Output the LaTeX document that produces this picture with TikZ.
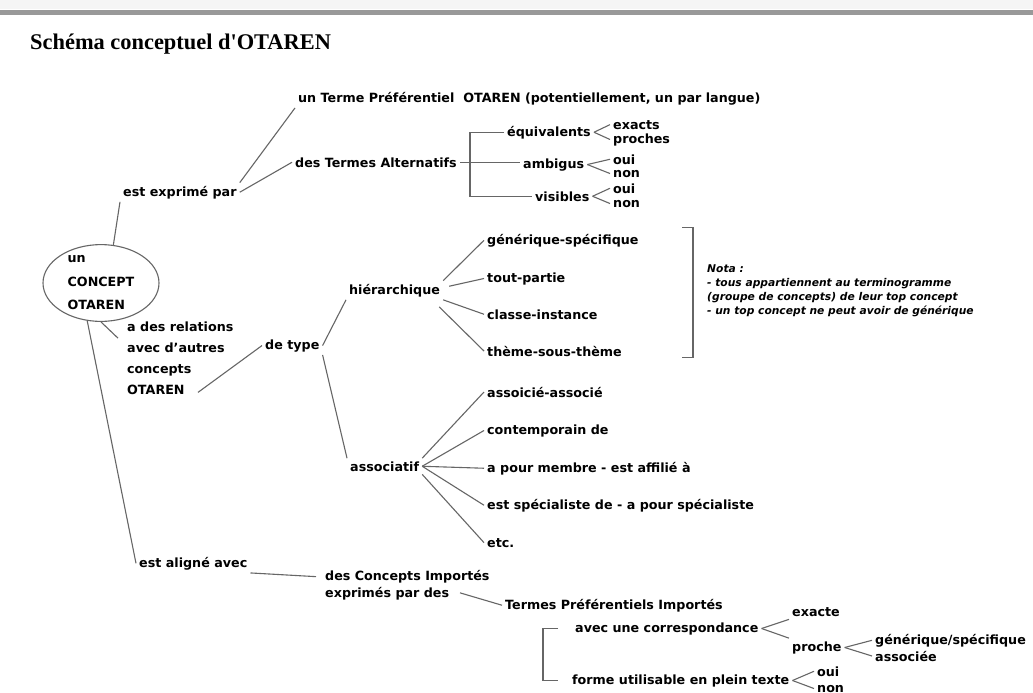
\documentclass[tikz,border=0pt]{standalone}
\usepackage{fontspec}
\setmainfont{DejaVu Sans}
\newfontfamily\titlefont{Liberation Serif}
\usetikzlibrary{calc,shapes.geometric}

\newcommand{\lblfont}{\fontsize{12.7}{14}\selectfont\bfseries}

\begin{document}
\begin{tikzpicture}[x=1pt,y=-1pt,
    lbl/.style={anchor=base west, inner sep=3pt, font=\lblfont},
    con/.style={draw=black!60, line width=1.1pt}]
    %CADRE
    \fill[white] (0,0) rectangle (1033,693);
    \useasboundingbox (0,0) rectangle (1033,693);
    \fill[black!4] (0,0) rectangle (1033,9);
    \fill[black!40] (0,10) rectangle (1033,15);

    %TITRE
    \node[anchor=base west, inner sep=0pt, font=\titlefont\fontsize{22.4}{26}\selectfont\bfseries] (titre) at (30,50) {Schéma conceptuel d'OTAREN};

    %CONCEPT
    \node[ellipse, con, minimum width=116pt, minimum height=74pt, inner sep=0pt, align=left, font=\fontsize{12.7}{23.5}\selectfont\bfseries] (concept) at (101,283) {un\\CONCEPT\\OTAREN};

    %EXPRIME
    \node[lbl] (expr) at (120,196) {est exprimé par};
    \node[lbl] (tp) at (295,102) {un Terme Préférentiel\ \ OTAREN (potentiellement, un par langue)};
    \node[lbl] (alt) at (292,167) {des Termes Alternatifs};
    \node[lbl] (equiv) at (504,136) {équivalents};
    \node[lbl] (exacts) at (610,129) {exacts};
    \node[lbl] (proches) at (610,143) {proches};
    \node[lbl] (ambigus) at (520,168) {ambigus};
    \node[lbl] (ouiA) at (610,164) {oui};
    \node[lbl] (nonA) at (610,177) {non};
    \node[lbl] (visibles) at (532,201) {visibles};
    \node[lbl] (ouiB) at (610,193) {oui};
    \node[lbl] (nonB) at (610,207) {non};

    %RELATIONS
    \node[lbl, align=left, font=\fontsize{12.7}{21}\selectfont\bfseries] (rel) at (124,394) {a des relations\\avec d'autres\\concepts\\OTAREN};
    \node[lbl] (detype) at (262,349) {de type};
    \node[lbl] (hier) at (346,294) {hiérarchique};
    \node[lbl] (gen) at (484,244) {générique-spécifique};
    \node[lbl] (tout) at (484,282) {tout-partie};
    \node[lbl] (classe) at (484,319) {classe-instance};
    \node[lbl] (theme) at (484,356) {thème-sous-thème};
    \node[anchor=base west, align=left, inner sep=0pt, font=\fontsize{10.7}{14}\selectfont\bfseries\itshape] (nota) at (707,314) {Nota :\\- tous appartiennent au terminogramme\\(groupe de concepts) de leur top concept\\- un top concept ne peut avoir de générique};
    \node[lbl] (assoc) at (347,471) {associatif};
    \node[lbl] (aA) at (484,397) {assoicié-associé};
    \node[lbl] (aB) at (484,434) {contemporain de};
    \node[lbl] (aC) at (484,472) {a pour membre - est affilié à};
    \node[lbl] (aD) at (484,509) {est spécialiste de - a pour spécialiste};
    \node[lbl] (aE) at (484,547) {etc.};

    %ALIGNEMENT
    \node[lbl] (aligne) at (136,567) {est aligné avec};
    \node[lbl, align=left, font=\fontsize{12.7}{17}\selectfont\bfseries] (imp) at (322,597) {des Concepts Importés\\exprimés par des};
    \node[lbl] (tpi) at (502,609) {Termes Préférentiels Importés};
    \node[lbl] (corr) at (572,632) {avec une correspondance};
    \node[lbl] (exacte) at (789,616) {exacte};
    \node[lbl] (proche) at (789,651) {proche};
    \node[lbl] (gs) at (872,644) {générique/spécifique};
    \node[lbl] (associee) at (872,661) {associée};
    \node[lbl] (forme) at (569,684) {forme utilisable en plein texte};
    \node[lbl] (ouiC) at (814,676) {oui};
    \node[lbl] (nonC) at (814,692) {non};

    %LIENS
    \draw[con] (expr.north east) -- (tp.south west);
    \draw[con] (expr.east) -- (alt.west);
    \draw[con] (expr.south west) -- (concept.72);
    \draw[con] (concept.-90) -- ($(rel.north west)+(-6,20)$);
    \draw[con] ($(rel.south west)+(74,-5)$) -- (detype.west);
    \draw[con] (detype.east) -- (hier.south west);
    \draw[con] (detype.south east) -- (assoc.north west);
    \draw[con] (hier.north east) -- (gen.west);
    \draw[con] ($(hier.east)+(6,-4)$) -- (tout.west);
    \draw[con] (hier.south east) -- (classe.west);
    \draw[con] ($(hier.south east)+(-4,7)$) -- (theme.west);
    \draw[con] (assoc.north east) -- (aA.west);
    \draw[con] (assoc.east) -- (aB.west);
    \draw[con] (assoc.east) -- (aC.west);
    \draw[con] (assoc.east) -- (aD.west);
    \draw[con] (assoc.south east) -- (aE.west);
    \draw[con] (concept.-110) -- (aligne.west);
    \draw[con] (aligne.south east) -- ($(imp.north west)+(-6,10)$);
    \draw[con] ($(imp.south west)+(138,-10)$) -- (tpi.west);

    %CROCHETS
    \draw[con] (equiv.west) -- ++(-34,0) |- (visibles.west);
    \draw[con] (alt.east) -- (alt.east -| ambigus.west);
    \draw[con] ($(corr.west)+(-14,0)$) -- ++(-15,0) |- ($(forme.west)+(-11,0)$);
    \draw[con] ($(nota.west)+(-25,-63)$) -- ++(11,0) -- ++(0,130) -- ++(-11,0);

    %FOURCHES
    \foreach \a/\b in {equiv.east/exacts.west, equiv.east/proches.west,
        ambigus.east/ouiA.west, ambigus.east/nonA.west,
        visibles.east/ouiB.west, visibles.east/nonB.west,
        corr.east/exacte.south west, corr.east/proche.north west,
        proche.east/gs.west, proche.east/associee.west,
        forme.east/ouiC.west, forme.east/nonC.west}
        \draw[con] (\a) -- (\b);
\end{tikzpicture}
\end{document}
